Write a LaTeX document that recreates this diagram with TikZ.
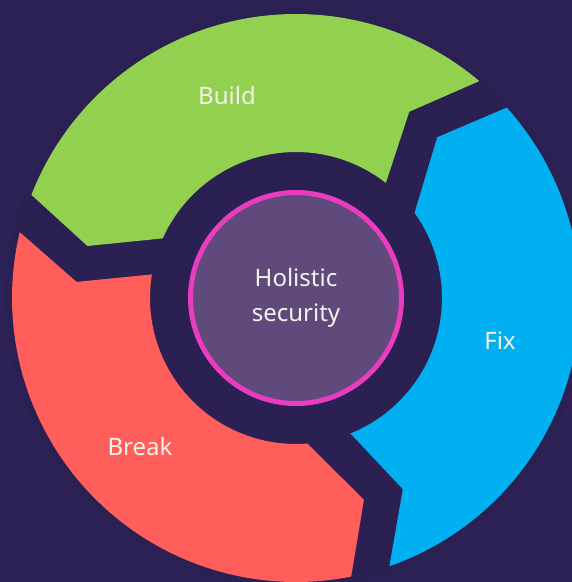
\documentclass[tikz,border=0pt]{standalone}
\usepackage{fontspec}
\setmainfont{Noto Sans}
\definecolor{bgnavy}{HTML}{2D2255}
\definecolor{halonavy}{HTML}{2B2052}
\definecolor{buildgreen}{HTML}{92D050}
\definecolor{breakred}{HTML}{FF5E5B}
\definecolor{fixblue}{HTML}{00B0F0}
\definecolor{hubfill}{HTML}{604A7B}
\definecolor{hubpink}{HTML}{E93CBF}
\definecolor{textwhite}{HTML}{F4F2EA}

\begin{document}
\begin{tikzpicture}[x=1pt,y=1pt,
   phase/.style={
      text = textwhite,
      font = \fontsize{24}{35}\selectfont,
      align = center
   }]
   \fill[bgnavy] (0,0) rectangle (572,-582);
   \useasboundingbox (0,0) rectangle (572,-582);
   \clip (0,0) rectangle (572,-582);

   \begin{scope}[shift={(296,-298)}]
   \fill[halonavy] (0,0) circle[radius=291pt];
   % Build
   \fill[buildgreen] (49.8:284pt) arc[start angle=49.8, end angle=158.7, radius=284pt]
      -- (166:215pt) -- (155.9:146pt) arc[start angle=155.9, end angle=52, radius=146pt]
      -- (58.7:218pt) -- cycle;
   % Break
   \fill[breakred] (166.6:284pt) arc[start angle=166.6, end angle=281.2, radius=284pt]
      -- (288.6:213pt) -- (274.5:146pt) arc[start angle=274.5, end angle=170.7, radius=146pt]
      -- (175.8:220pt) -- cycle;
   % Fix
   \fill[fixblue] (-70.8:284pt) arc[start angle=-70.8, end angle=42.1, radius=284pt]
      -- (48.7:214pt) -- (35.7:146pt) arc[start angle=35.7, end angle=-68.1, radius=146pt]
      -- (-60.8:219pt) -- cycle;
   \end{scope}

   \node[circle, minimum size=211pt, draw=hubpink, line width=5pt, fill=hubfill,
      phase] (hub) at (296,-298) {Holistic\\security};

   \node[phase] (build) at (227,-95) {Build};
   \node[phase] (break) at (140,-446) {Break};
   \node[phase] (fix) at (500,-341) {Fix};
\end{tikzpicture}
\end{document}
